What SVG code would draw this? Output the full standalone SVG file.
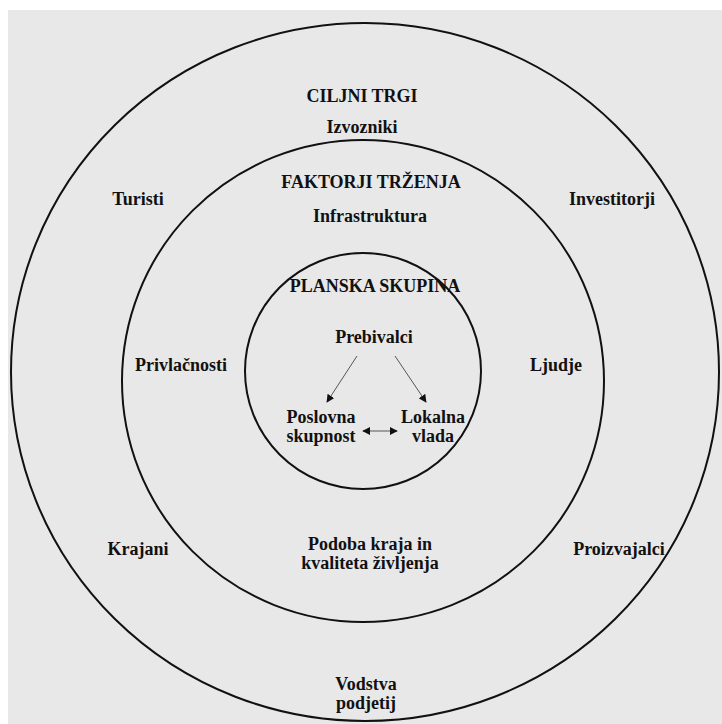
<svg xmlns="http://www.w3.org/2000/svg" width="722" height="724" viewBox="0 0 722 724">
<style>
.ring{fill:none;stroke:#111;stroke-width:2}
.t{font-family:"Liberation Serif","Times New Roman",serif;font-weight:bold;font-size:18px;fill:#111;text-anchor:middle}
.c{stroke:#555;stroke-width:1;fill:none}
</style>
<defs>
<marker id="ah" viewBox="0 0 10 10" refX="9" refY="5" markerWidth="8" markerHeight="8" markerUnits="userSpaceOnUse" orient="auto-start-reverse">
<path d="M0,0 L10,5 L0,10 z" fill="#111"/>
</marker>
</defs>
<rect x="0" y="0" width="722" height="724" fill="#ffffff"/>
<rect x="8" y="10" width="714" height="714" fill="#e8e8e8"/>
<g id="outer">
<ellipse class="ring" cx="365" cy="372" rx="354" ry="349"/>
<text class="t" x="362" y="102">CILJNI TRGI</text>
<text class="t" x="362" y="133">Izvozniki</text>
<text class="t" x="138" y="205">Turisti</text>
<text class="t" x="612" y="205">Investitorji</text>
<text class="t" x="138" y="555">Krajani</text>
<text class="t" x="619" y="555">Proizvajalci</text>
<text class="t" x="366" y="690">Vodstva</text>
<text class="t" x="366" y="709">podjetij</text>
</g>
<g id="middle">
<circle class="ring" cx="363" cy="381" r="241"/>
<text class="t" x="371" y="188">FAKTORJI TRŽENJA</text>
<text class="t" x="370" y="222">Infrastruktura</text>
<text class="t" x="181" y="371">Privlačnosti</text>
<text class="t" x="556" y="371">Ljudje</text>
<text class="t" x="370" y="550">Podoba kraja in</text>
<text class="t" x="370" y="569">kvaliteta življenja</text>
</g>
<g id="inner">
<circle class="ring" cx="363" cy="371" r="118"/>
<text class="t" x="375" y="292">PLANSKA SKUPINA</text>
<text class="t" x="374" y="343">Prebivalci</text>
</g>
<g id="poslovna">
<text class="t" x="321" y="423">Poslovna</text>
<text class="t" x="321" y="442">skupnost</text>
</g>
<g id="lokalna">
<text class="t" x="433" y="423">Lokalna</text>
<text class="t" x="433" y="442">vlada</text>
</g>
<g id="connectors">
<line class="c" x1="357" y1="356" x2="327" y2="402" marker-end="url(#ah)"/>
<line class="c" x1="395" y1="356" x2="426" y2="402" marker-end="url(#ah)"/>
<line class="c" x1="363" y1="431" x2="397" y2="431" marker-start="url(#ah)" marker-end="url(#ah)"/>
</g>
</svg>
